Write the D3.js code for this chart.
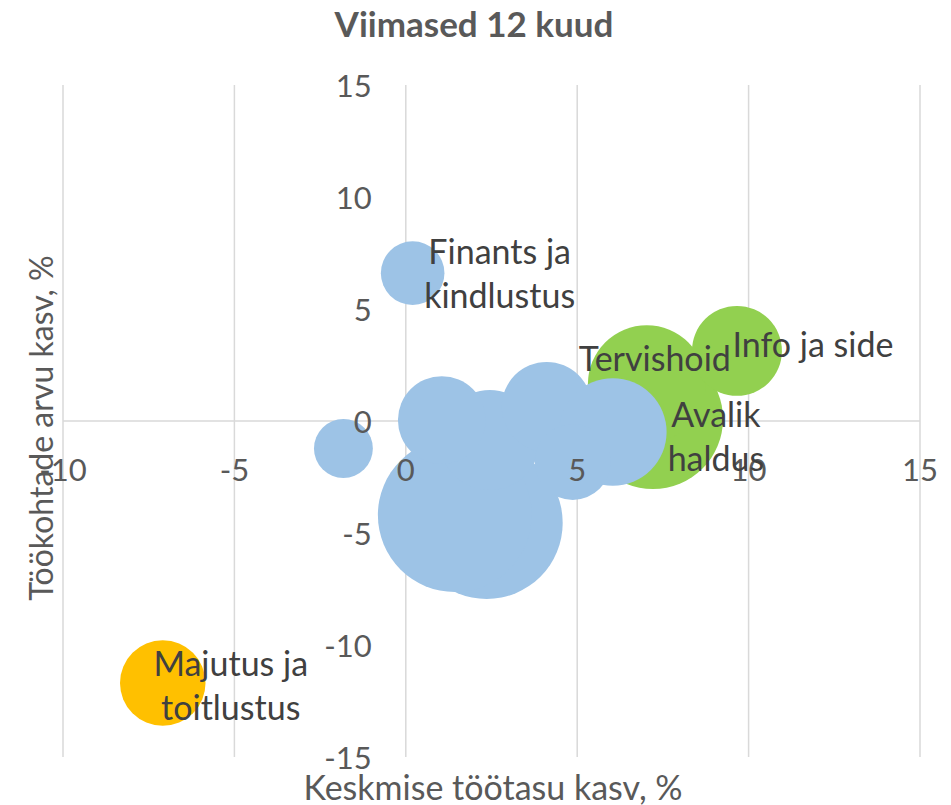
<!DOCTYPE html>
<html>
<head>
<meta charset="utf-8">
<script src="https://cdn.jsdelivr.net/npm/d3@7"></script>
<style>
  body { margin: 0; background: #fff; }
  svg text { font-family: Lato, "Noto Sans", sans-serif; }
</style>
</head>
<body>
<svg id="chart" width="951" height="805"></svg>
<script>
// sectors, wage growth (x, %), job growth (y, %), employees (bubble size)
var sectors = ["Avalik haldus", "Tervishoid", "Info ja side", "Majutus ja toitlustus",
  "Finants ja kindlustus", "s6", "s7", "s8", "s9", "s10", "s11", "s12", "s13"];
var labels = [["Avalik", "haldus"], ["Tervishoid"], ["Info ja side"], ["Majutus ja", "toitlustus"],
  ["Finants ja", "kindlustus"], [], [], [], [], [], [], [], []];
var wageGrowth = [7.21, 7.03, 9.66, -7.09, 0.2, -1.82, 2.36, 1.43, 2.45, 1.05, 4.11, 6.04, 4.87];
var jobGrowth  = [0.09, 1.65, 3.13, -11.7, 6.6, -1.23, -4.55, -4.2, -0.85, 0.04, 0.63, -0.49, -1.83];
var employees  = [102, 72, 42, 38, 21, 18, 120, 123, 52, 40, 42, 60, 30];
var groups     = ["green", "green", "green", "orange", "blue", "blue", "blue", "blue", "blue",
  "blue", "blue", "blue", "blue"];

var xTicks = [-10, -5, 0, 5, 10, 15];
var yTicks = [-15, -10, -5, 0, 5, 10, 15];

var colors = { blue: "#9DC3E6", green: "#92D050", orange: "#FFC000" };
// label placement relative to bubble centre
var labelPos = {
  "Avalik haldus": [63, -6],
  "Tervishoid": [8, -27],
  "Info ja side": [76, -8],
  "Majutus ja toitlustus": [68, -21],
  "Finants ja kindlustus": [87, -23]
};

var svg = d3.select("#chart");

var x = d3.scaleLinear().domain([-10, 15]).range([63, 920]);
var y = d3.scaleLinear().domain([-15, 15]).range([757, 85]);
var r = d3.scaleSqrt().domain([0, 120]).range([0, 76]);

var data = sectors.map(function (s, i) {
  return { name: s, lines: labels[i], x: wageGrowth[i], y: jobGrowth[i], size: employees[i], group: groups[i] };
});

// vertical gridlines
svg.append("g").selectAll("line").data(xTicks).enter().append("line")
  .attr("x1", function (d) { return x(d); }).attr("x2", function (d) { return x(d); })
  .attr("y1", y(15)).attr("y2", y(-15))
  .attr("stroke", "#D9D9D9").attr("stroke-width", 1.5);

// horizontal axis line at y = 0
svg.append("line")
  .attr("x1", x(-10)).attr("x2", x(15)).attr("y1", y(0)).attr("y2", y(0))
  .attr("stroke", "#D9D9D9").attr("stroke-width", 1.5);

// bubbles
svg.append("g").selectAll("circle").data(data).enter().append("circle")
  .attr("cx", function (d) { return x(d.x); })
  .attr("cy", function (d) { return y(d.y); })
  .attr("r", function (d) { return r(d.size); })
  .attr("fill", function (d) { return colors[d.group]; });

// tick labels
var tickFont = 31;
svg.append("g").selectAll("text").data(xTicks).enter().append("text")
  .attr("x", function (d) { return x(d); }).attr("y", y(0) + 48)
  .attr("text-anchor", "middle").attr("dominant-baseline", "central")
  .attr("font-size", tickFont).attr("fill", "#595959")
  .text(function (d) { return d; });

svg.append("g").selectAll("text").data(yTicks).enter().append("text")
  .attr("x", x(0) - 34).attr("y", function (d) { return y(d); })
  .attr("text-anchor", "end").attr("dominant-baseline", "central")
  .attr("font-size", tickFont).attr("fill", "#595959")
  .text(function (d) { return d; });

// data labels
var lab = svg.append("g").selectAll("text").data(data.filter(function (d) { return d.lines.length; }))
  .enter().append("text")
  .attr("font-size", 34).attr("fill", "#404040").attr("text-anchor", "middle")
  .attr("dominant-baseline", "central");
lab.each(function (d) {
  var p = labelPos[d.name];
  var t = d3.select(this);
  d.lines.forEach(function (line, k) {
    t.append("tspan")
      .attr("x", x(d.x) + p[0])
      .attr("y", y(d.y) + p[1] + k * 44)
      .text(line);
  });
});

// titles
svg.append("text").attr("x", 474).attr("y", 23)
  .attr("text-anchor", "middle").attr("dominant-baseline", "central")
  .attr("font-size", 35).attr("font-weight", "bold").attr("fill", "#595959")
  .text("Viimased 12 kuud");

svg.append("text").attr("x", 493).attr("y", 786)
  .attr("text-anchor", "middle").attr("dominant-baseline", "central")
  .attr("font-size", 34).attr("fill", "#595959")
  .text("Keskmise töötasu kasv, %");

svg.append("text")
  .attr("transform", "translate(40,428) rotate(-90)")
  .attr("text-anchor", "middle").attr("dominant-baseline", "central")
  .attr("font-size", 32).attr("fill", "#595959")
  .text("Töökohtade arvu kasv, %");
</script>
</body>
</html>
